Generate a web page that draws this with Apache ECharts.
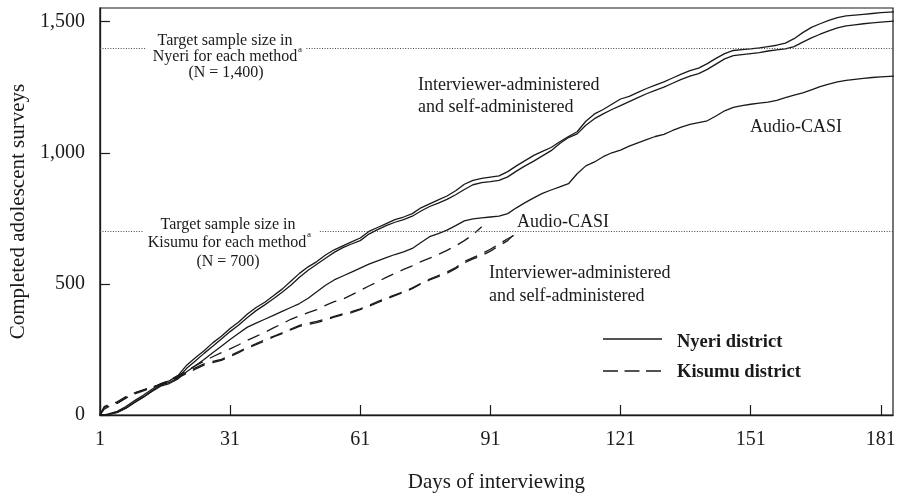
<!DOCTYPE html>
<html>
<head>
<meta charset="utf-8">
<script src="https://cdn.jsdelivr.net/npm/echarts@6/dist/echarts.min.js"></script>
<style>
html,body{margin:0;padding:0;background:#fff;}
#chart{width:901px;height:498px;}
</style>
</head>
<body>
<div id="chart"></div>
<script>
// ---- data ----
const nyeriDays = [1,2,3,5,7,9,11,13,15,17,19,21,23,25,27,29,31,33,35,37,39,41,43,45,47,49,51,53,55,57,59,61,63,65,67,69,71,73,75,77,79,81,83,85,87,89,91,93,95,97,99,101,103,105,107,109,111,113,115,117,119,121,123,125,127,129,131,133,135,137,139,141,143,145,147,149,151,153,155,157,159,161,163,165,167,169,171,173,175,177,179,181,184];
const nyeriInterviewer = [0,0,4,14,32,55,75,98,120,130,150,190,218,245,275,300,330,355,385,410,430,455,480,510,540,565,585,610,630,645,660,675,700,715,730,745,755,768,790,805,820,835,855,880,895,902,907,912,928,950,970,990,1005,1020,1042,1062,1080,1120,1148,1165,1185,1205,1215,1230,1245,1258,1270,1285,1300,1313,1323,1340,1360,1378,1390,1393,1396,1400,1405,1410,1418,1435,1458,1478,1492,1505,1515,1522,1525,1528,1531,1534,1537];
const nyeriSelf = [0,0,2,10,26,48,68,92,114,124,142,178,206,235,262,290,318,343,372,398,420,443,468,495,525,552,575,598,620,638,652,665,690,707,722,735,745,758,778,795,808,822,840,860,878,886,890,895,908,930,950,968,988,1008,1035,1058,1072,1105,1130,1148,1165,1180,1195,1210,1225,1238,1250,1265,1280,1292,1302,1318,1338,1358,1370,1374,1378,1382,1388,1392,1396,1405,1422,1438,1452,1465,1476,1484,1488,1492,1495,1498,1502];
const nyeriAudio = [0,0,2,10,26,48,68,90,110,120,138,165,188,212,237,262,288,312,335,350,365,380,395,410,425,445,470,495,515,530,545,560,575,588,600,612,622,635,658,680,692,705,722,740,748,752,755,758,768,790,810,828,845,858,870,882,920,950,965,985,1000,1010,1025,1038,1050,1062,1070,1085,1098,1108,1115,1122,1140,1160,1173,1180,1185,1189,1193,1200,1210,1220,1228,1240,1252,1262,1270,1276,1280,1284,1287,1289,1292];

const kisumuDays = [1,2,3,5,7,9,11,13,15,17,19,21,23,25,27,29,31,33,35,37,39,41,43,45,47,49,51,53,55,57,59,61,63,65,67,69,71,73,75,77,79,81,83,85,87,89,91,93,95,97];
const kisumuAudio = [0,32,40,50,70,84,95,106,118,133,150,168,188,205,222,238,252,268,285,300,315,332,348,365,378,390,402,418,432,442,458,475,492,508,525,540,555,569,585,598,612,628,645,665,688,718,null,null,null,null];
const kisumuInterviewer = [0,28,36,46,66,80,92,104,115,128,142,158,175,190,200,208,222,238,255,268,282,298,310,325,338,345,352,362,373,382,390,402,415,428,442,455,468,482,500,515,528,540,558,580,595,608,625,645,665,698];
const kisumuSelf = [0,22,32,44,64,84,96,106,117,130,145,162,180,195,204,212,226,242,258,272,287,300,313,328,342,350,357,366,376,386,394,405,418,432,446,458,470,485,502,518,532,545,562,585,600,615,632,652,672,690];

const xTicks = [1,31,61,91,121,151,181];
const yTicks = [0,500,1000,1500];
const targetNyeri = 1400;
const targetKisumu = 700;

// ---- chart ----
const FONT = '"Liberation Serif", "Times New Roman", serif';
const INK = '#1a1a1a';
const pair = (xs, ys) => xs.map((x, i) => [x, ys[i]]);

const chart = echarts.init(document.getElementById('chart'), null, {renderer: 'canvas', width: 901, height: 498});

function lineSeries(name, xs, ys, dashed, extra) {
  return Object.assign({
    name: name,
    type: 'line',
    data: pair(xs, ys),
    showSymbol: false,
    symbol: 'none',
    smooth: false,
    connectNulls: false,
    animation: false,
    silent: true,
    lineStyle: {color: INK, width: 1.3, type: dashed ? [13, 8] : 'solid'}
  }, extra || {});
}

const dotted = {color: '#444', width: 1, type: [1, 1.6]};
const option = {
  animation: false,
  backgroundColor: '#fff',
  grid: {left: 97, right: 8, top: 8, bottom: 82, show: true, borderColor: INK, borderWidth: 1.2, backgroundColor: 'transparent'},
  xAxis: {
    type: 'value', min: 1, max: 183.8, interval: 30,
    name: 'Days of interviewing', nameLocation: 'middle', nameGap: 57,
    nameTextStyle: {fontFamily: FONT, fontSize: 21, color: INK},
    axisLine: {show: true, lineStyle: {color: INK, width: 1.3}},
    axisTick: {show: true, inside: true, length: 10, lineStyle: {color: INK, width: 1.2}, customValues: xTicks},
    axisLabel: {show: true, margin: 15, fontFamily: FONT, fontSize: 20, color: INK, customValues: xTicks},
    splitLine: {show: false}
  },
  yAxis: {
    type: 'value', min: 0, max: 1552, interval: 500,
    name: 'Completed adolescent surveys', nameLocation: 'middle', nameGap: 68,
    nameTextStyle: {fontFamily: FONT, fontSize: 21, color: INK},
    axisLine: {show: true, lineStyle: {color: INK, width: 1.3}},
    axisTick: {show: true, inside: true, length: 10, lineStyle: {color: INK, width: 1.2}, customValues: yTicks},
    axisLabel: {show: true, margin: 15, fontFamily: FONT, fontSize: 20, color: INK, customValues: yTicks,
      formatter: v => v.toLocaleString('en-US')},
    splitLine: {show: false}
  },
  series: [
    lineSeries('Nyeri interviewer', nyeriDays, nyeriInterviewer, false, {
      markLine: {
        silent: true, symbol: 'none', label: {show: false}, animation: false,
        lineStyle: dotted,
        data: [
          [{xAxis: 1, yAxis: targetNyeri}, {xAxis: 11.5, yAxis: targetNyeri}],
          [{xAxis: 48.6, yAxis: targetNyeri}, {xAxis: 183.8, yAxis: targetNyeri}],
          [{xAxis: 1, yAxis: targetKisumu}, {xAxis: 11.2, yAxis: targetKisumu}],
          [{xAxis: 51.7, yAxis: targetKisumu}, {xAxis: 183.8, yAxis: targetKisumu}]
        ]
      }
    }),
    lineSeries('Nyeri self', nyeriDays, nyeriSelf, false),
    lineSeries('Nyeri audio', nyeriDays, nyeriAudio, false),
    lineSeries('Kisumu audio', kisumuDays, kisumuAudio, true),
    lineSeries('Kisumu interviewer', kisumuDays, kisumuInterviewer, true),
    lineSeries('Kisumu self', kisumuDays, kisumuSelf, true)
  ],
  graphic: []
};

function txt(text, x, y, size, opts) {
  opts = opts || {};
  return {
    type: 'text', x: x, y: y, silent: true, z: 100,
    style: Object.assign({
      text: text, fill: INK,
      font: (opts.bold ? 'bold ' : '') + size + 'px ' + FONT,
      align: opts.align || 'left', verticalAlign: 'middle',
      textAlign: opts.align || 'left', textVerticalAlign: 'middle'
    })
  };
}

option.graphic = [
  // Nyeri target annotation
  txt('Target sample size in', 225, 41, 16, {align: 'center'}),
  txt('Nyeri for each method', 225, 57, 16, {align: 'center'}),
  txt('a', 300, 50, 9, {align: 'center'}),
  txt('(N = 1,400)', 226, 73, 16, {align: 'center'}),
  // Kisumu target annotation
  txt('Target sample size in', 228, 225, 16, {align: 'center'}),
  txt('Kisumu for each method', 227, 242.5, 16, {align: 'center'}),
  txt('a', 309, 235, 9, {align: 'center'}),
  txt('(N = 700)', 228, 261.5, 16, {align: 'center'}),
  // series labels
  txt('Interviewer-administered', 418, 85, 18),
  txt('and self-administered', 418, 107, 18),
  txt('Audio-CASI', 750, 127, 18),
  txt('Audio-CASI', 517, 222, 18),
  txt('Interviewer-administered', 489, 273, 18),
  txt('and self-administered', 489, 296.5, 18),
  // legend
  {type: 'line', silent: true, z: 100, shape: {x1: 603, y1: 339, x2: 662, y2: 339}, style: {stroke: INK, lineWidth: 1.3}},
  {type: 'line', silent: true, z: 100, shape: {x1: 603, y1: 371, x2: 665, y2: 371}, style: {stroke: INK, lineWidth: 1.3, lineDash: [15, 6.5]}},
  txt('Nyeri district', 677, 342.5, 18.5, {bold: true}),
  txt('Kisumu district', 677, 372.5, 18.5, {bold: true})
];

chart.setOption(option);
</script>
</body>
</html>
